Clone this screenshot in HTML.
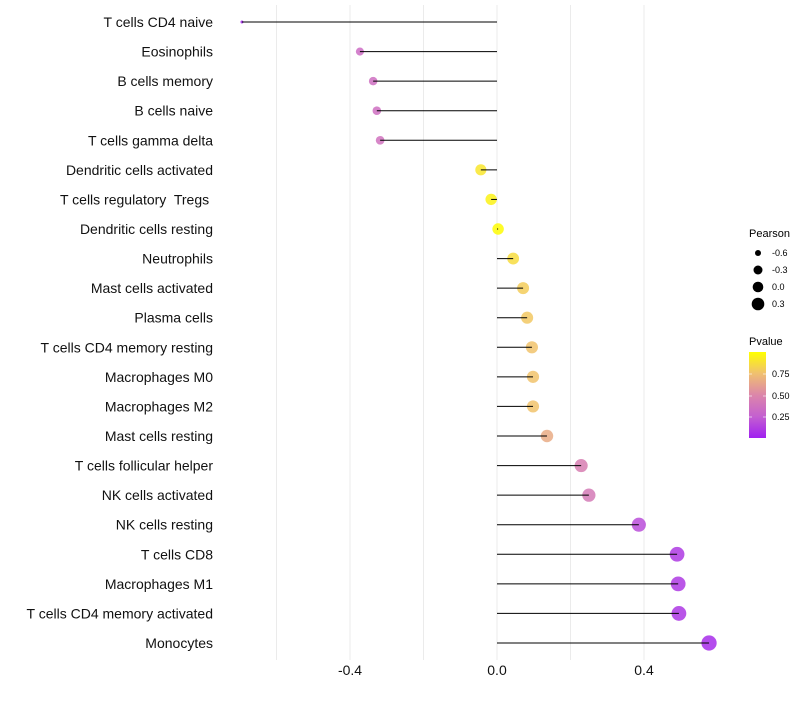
<!DOCTYPE html>
<html><head><meta charset="utf-8"><style>
body{margin:0;background:#fff;font-family:"Liberation Sans",sans-serif}
text{white-space:pre}
</style></head><body>
<svg id="c" width="800" height="700" xmlns="http://www.w3.org/2000/svg">
<defs><linearGradient id="pg" x1="0" y1="1" x2="0" y2="0">
<stop offset="0" stop-color="#a020f0"/><stop offset="0.25" stop-color="#c460d0"/><stop offset="0.5" stop-color="#dc86aa"/><stop offset="0.75" stop-color="#f0c070"/><stop offset="1" stop-color="#ffff00"/></linearGradient></defs>
<g id="grid"></g><g id="marks"></g><g id="labels"></g><g id="xt"></g>
<g font-size="9">
<text x="749" y="237" font-size="11">Pearson</text>
<circle cx="758" cy="253" r="3"/><text x="772" y="256">-0.6</text>
<circle cx="758" cy="270" r="4.5"/><text x="772" y="273">-0.3</text>
<circle cx="758" cy="287" r="5.3"/><text x="772" y="290">0.0</text>
<circle cx="758" cy="304" r="6.3"/><text x="772" y="307">0.3</text>
<text x="749" y="345" font-size="11">Pvalue</text>
<rect x="749" y="352" width="17" height="86" fill="url(#pg)"/>
<g stroke="#fff" stroke-opacity="0.6"><line x1="749" x2="752" y1="374" y2="374"/><line x1="763" x2="766" y1="374" y2="374"/><line x1="749" x2="752" y1="396" y2="396"/><line x1="763" x2="766" y1="396" y2="396"/><line x1="749" x2="752" y1="417" y2="417"/><line x1="763" x2="766" y1="417" y2="417"/></g>
<text x="772" y="377">0.75</text><text x="772" y="399">0.50</text><text x="772" y="420">0.25</text>
</g>
</svg>
<script>
const cells=["T cells CD4 naive","Eosinophils","B cells memory","B cells naive","T cells gamma delta","Dendritic cells activated","T cells regulatory  Tregs ","Dendritic cells resting","Neutrophils","Mast cells activated","Plasma cells","T cells CD4 memory resting","Macrophages M0","Macrophages M2","Mast cells resting","T cells follicular helper","NK cells activated","NK cells resting","T cells CD8","Macrophages M1","T cells CD4 memory activated","Monocytes"];
const pearson=[-0.694,-0.373,-0.337,-0.327,-0.318,-0.044,-0.016,0.003,0.044,0.071,0.082,0.095,0.098,0.098,0.136,0.229,0.25,0.386,0.49,0.493,0.495,0.577];
const pvalue=[0.02,0.33,0.35,0.35,0.37,0.9,0.95,0.99,0.86,0.8,0.78,0.76,0.76,0.76,0.66,0.45,0.42,0.18,0.1,0.1,0.09,0.05];
const xticks=[-0.4,0.0,0.4];
const xtickLabels=["-0.4","0.0","0.4"];
const grids=[-0.6,-0.4,-0.2,0,0.2,0.4];
const X=v=>497+v*367.5;
const Y=i=>22+i*(621/21);
const ns="http://www.w3.org/2000/svg";
function mk(t,a,p){const e=document.createElementNS(ns,t);for(const k in a)e.setAttribute(k,a[k]);p.appendChild(e);return e;}
const stops=[[0,[160,32,240]],[0.25,[196,96,208]],[0.5,[220,134,170]],[0.75,[240,192,112]],[1,[255,255,0]]];
function col(p){for(let i=1;i<stops.length;i++){if(p<=stops[i][0]){const a=stops[i-1],b=stops[i],t=(p-a[0])/(b[0]-a[0]);return 'rgb('+a[1].map((c,j)=>Math.round(c+(b[1][j]-c)*t)).join(',')+')';}}return 'rgb(255,255,0)';}
const minP=Math.min(...pearson);
const R=v=>Math.sqrt(2.25+44*(v-minP));
const g=document.getElementById('grid'),m=document.getElementById('marks'),lb=document.getElementById('labels'),xt=document.getElementById('xt');
grids.forEach(v=>{const l=mk('line',{x1:X(v),x2:X(v),y1:5,y2:660,stroke:'#ebebeb'},g);

});
cells.forEach((c,i)=>{
const pt=mk('circle',{cx:X(pearson[i]),cy:Y(i),r:R(pearson[i]),fill:col(pvalue[i]),'fill-opacity':0.85},m);


const sg=mk('line',{x1:X(0),x2:X(pearson[i]),y1:Y(i),y2:Y(i),stroke:'#000','stroke-width':1},m);


const t=mk('text',{x:213,y:Y(i)+5,'text-anchor':'end','font-size':14,fill:'#111'},lb);t.textContent=c;


});
xticks.forEach((v,i)=>{const t=mk('text',{x:X(v),y:675,'text-anchor':'middle','font-size':14,fill:'#111'},xt);t.textContent=xtickLabels[i];

});
</script>
</body></html>
